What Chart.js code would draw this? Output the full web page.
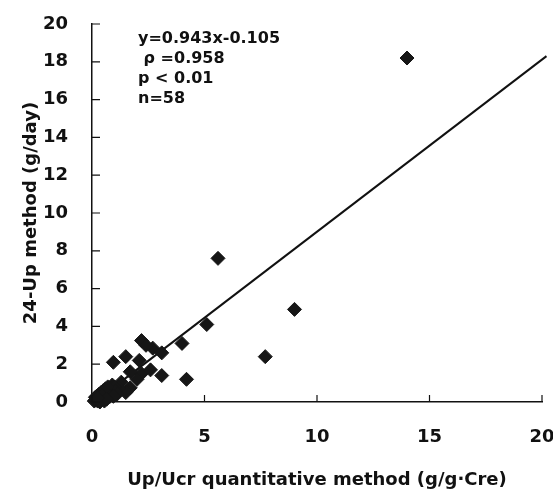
<!DOCTYPE html>
<html>
<head>
<meta charset="utf-8">
<script src="https://cdn.jsdelivr.net/npm/chart.js@4/dist/chart.umd.min.js"></script>
<style>
  html, body { margin: 0; padding: 0; background: #fff; }
  #wrap { width: 553px; height: 494px; }
</style>
</head>
<body>
<div id="wrap"><canvas id="scatterChart"></canvas></div>
<script>
// Up/Ucr vs 24-Up scatter
const xValues = [14.0, 5.6, 9.0, 7.7, 5.1, 4.0, 4.2, 2.2, 2.7, 3.1, 2.4, 1.5, 0.95, 2.1, 1.7, 2.2, 2.6, 3.1, 1.3, 0.9, 1.7, 1.5, 2.0, 1.2,
    0.1, 0.15, 0.2, 0.25, 0.3, 0.35, 0.4, 0.45, 0.5, 0.55, 0.6, 0.65, 0.7, 0.75, 0.8, 0.85, 0.9, 1.0, 1.05, 0.5, 0.4, 0.3, 0.6, 0.7, 0.2, 0.35, 0.55, 0.8, 1.1, 0.95, 0.15, 0.45, 0.65, 0.25];
const yValues = [18.2, 7.6, 4.9, 2.4, 4.1, 3.1, 1.2, 3.25, 2.85, 2.6, 3.0, 2.4, 2.1, 2.2, 1.6, 1.5, 1.7, 1.4, 1.05, 0.9, 0.75, 0.5, 1.2, 0.7,
    0.05, 0.1, 0.15, 0.05, 0.2, 0.1, 0.3, 0.15, 0.25, 0.4, 0.2, 0.5, 0.35, 0.6, 0.45, 0.7, 0.55, 0.8, 0.6, 0.6, 0.5, 0.4, 0.7, 0.8, 0.3, 0.0, 0.05, 0.3, 0.4, 0.3, 0.25, 0.35, 0.15, 0.2];

// regression line endpoints as drawn
const lineX = [0, 20.2];
const lineY = [-0.1, 18.3];

const xTicks = [0, 5, 10, 15, 20];
const yTicks = [0, 2, 4, 6, 8, 10, 12, 14, 16, 18, 20];

const statLines = ['y=0.943x-0.105', ' \u03C1 =0.958', 'p < 0.01', 'n=58'];

const tickFont = { family: 'DejaVu Sans', size: 18, weight: 'bold' };
const titleFont = { family: 'DejaVu Sans', size: 18, weight: 'bold' };

// inward tick marks + stats text
const innerTicks = {
    id: 'innerTicks',
    afterDraw(chart) {
        const ctx = chart.ctx;
        const xs = chart.scales.x, ys = chart.scales.y;
        ctx.save();
        ctx.strokeStyle = '#111';
        ctx.lineWidth = 1.2;
        ctx.beginPath();
        xTicks.forEach(v => {
            const px = xs.getPixelForValue(v);
            ctx.moveTo(px, ys.bottom);
            ctx.lineTo(px, ys.bottom - 7);
        });
        yTicks.forEach(v => {
            const py = ys.getPixelForValue(v);
            ctx.moveTo(xs.left, py);
            ctx.lineTo(xs.left + 8, py);
        });
        ctx.stroke();

        ctx.fillStyle = '#111';
        ctx.font = 'bold 16px "DejaVu Sans"';
        ctx.textBaseline = 'middle';
        statLines.forEach((t, i) => {
            ctx.fillText(t, 138, 39 + i * 20);
        });
        ctx.restore();
    }
};

new Chart(document.getElementById('scatterChart'), {
    type: 'scatter',
    data: {
        datasets: [{
            data: xValues.map((x, i) => ({ x: x, y: yValues[i] })),
            pointStyle: 'rectRot',
            pointRadius: 7,
            pointHoverRadius: 7,
            backgroundColor: '#161616',
            borderColor: '#161616',
            borderWidth: 1,
            clip: false
        }, {
            type: 'line',
            data: lineX.map((x, i) => ({ x: x, y: lineY[i] })),
            borderColor: '#111',
            borderWidth: 2,
            pointRadius: 0,
            fill: false,
            clip: false
        }]
    },
    plugins: [innerTicks],
    options: {
        responsive: true,
        maintainAspectRatio: false,
        animation: false,
        layout: { padding: { top: 24, right: 11, left: 0, bottom: 0 } },
        plugins: {
            legend: { display: false },
            tooltip: { enabled: false }
        },
        scales: {
            x: {
                type: 'linear',
                min: 0,
                max: 20,
                afterBuildTicks: scale => { scale.ticks = xTicks.map(v => ({ value: v })); },
                afterFit: scale => { scale.height = 92; scale.paddingLeft = 0; scale.paddingRight = 0; },
                grid: { display: false, drawTicks: false },
                border: { display: true, color: '#111', width: 1.5 },
                ticks: { color: '#111', font: tickFont, padding: 25, maxRotation: 0 },
                title: {
                    display: true,
                    text: 'Up/Ucr quantitative method (g/g\u00B7Cre)',
                    color: '#111',
                    font: titleFont,
                    padding: { top: 0, bottom: 3 }
                }
            },
            y: {
                type: 'linear',
                min: 0,
                max: 20,
                afterBuildTicks: scale => { scale.ticks = yTicks.map(v => ({ value: v })); },
                afterFit: scale => { scale.width = 92; scale.paddingTop = 0; scale.paddingBottom = 0; },
                grid: { display: false, drawTicks: false },
                border: { display: true, color: '#111', width: 1.5 },
                ticks: { color: '#111', font: tickFont, padding: 24 },
                title: {
                    display: true,
                    text: '24-Up method (g/day)',
                    color: '#111',
                    font: titleFont,
                    padding: { top: 21, bottom: 0 }
                }
            }
        }
    }
});
</script>
</body>
</html>
